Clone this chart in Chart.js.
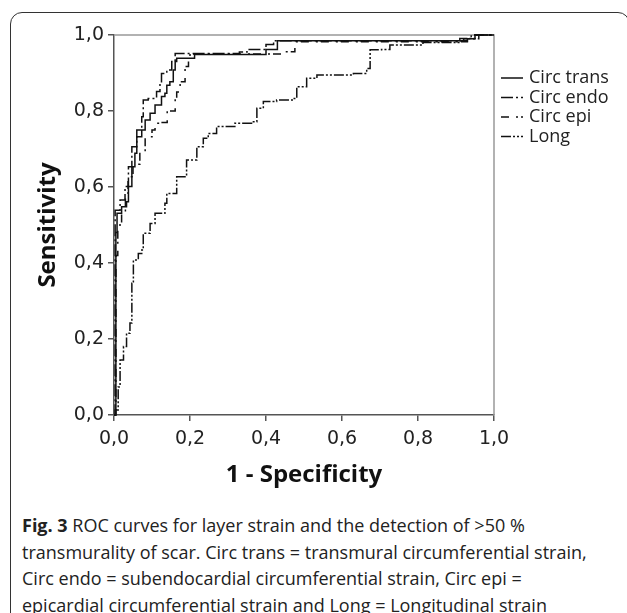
<!DOCTYPE html>
<html>
<head>
<meta charset="utf-8">
<script src="https://cdn.jsdelivr.net/npm/chart.js@4.4.1/dist/chart.umd.min.js"></script>
<style>
  body { margin: 0; background: #fff; width: 627px; height: 613px; overflow: hidden; position: relative; }
  #frame { position: absolute; left: 10px; top: 12px; width: 620px; height: 640px; border: 1.5px solid #333; border-radius: 12px; box-sizing: border-box; }
  #wrap { position: absolute; left: 0; top: 0; width: 627px; height: 500px; }
  #caption { position: absolute; left: 22px; top: 512px; width: 600px; font-family: "Open Sans", sans-serif; font-size: 18px; line-height: 26.5px; color: #222; white-space: nowrap; }
  #caption b { font-weight: 700; }
</style>
</head>
<body>
<div id="frame"></div>
<div id="wrap"><canvas id="roc" width="627" height="500"></canvas></div>
<div id="caption"><b>Fig. 3</b> ROC curves for layer strain and the detection of &gt;50 %<br>transmurality of scar. Circ trans = transmural circumferential strain,<br>Circ endo = subendocardial circumferential strain, Circ epi =<br>epicardial circumferential strain and Long = Longitudinal strain</div>
<script>
// eixos e rótulos
const tickLabels = ["0,0", "0,2", "0,4", "0,6", "0,8", "1,0"];
const seriesNames = ["Circ trans", "Circ endo", "Circ epi", "Long"];

// pontos (1 - especificidade, sensibilidade)
const transFpr = [0, 0.005, 0.008, 0.02, 0.033, 0.038, 0.047, 0.055, 0.060, 0.073, 0.082, 0.095, 0.108, 0.125, 0.134, 0.139, 0.147, 0.156, 0.161, 0.165, 0.212, 0.40, 0.43, 0.93, 0.95, 1.0];
const transTpr = [0, 0.48, 0.531, 0.548, 0.561, 0.601, 0.653, 0.689, 0.732, 0.75, 0.776, 0.794, 0.816, 0.838, 0.847, 0.868, 0.877, 0.908, 0.93, 0.939, 0.949, 0.962, 0.985, 0.99, 1.0, 1.0];

const endoFpr = [0, 0.003, 0.016, 0.029, 0.038, 0.047, 0.060, 0.073, 0.077, 0.090, 0.112, 0.121, 0.125, 0.139, 0.152, 0.161, 0.33, 0.35, 0.40, 0.42, 0.92, 0.94, 1.0];
const endoTpr = [0, 0.539, 0.566, 0.601, 0.653, 0.706, 0.75, 0.785, 0.829, 0.833, 0.851, 0.873, 0.899, 0.908, 0.93, 0.951, 0.955, 0.962, 0.975, 0.985, 0.99, 1.0, 1.0];

const epiFpr = [0, 0.005, 0.01, 0.02, 0.03, 0.037, 0.05, 0.068, 0.082, 0.1, 0.108, 0.121, 0.14, 0.161, 0.165, 0.174, 0.187, 0.196, 0.2, 0.44, 0.476, 0.93, 0.96, 1.0];
const epiTpr = [0, 0.42, 0.50, 0.53, 0.58, 0.627, 0.66, 0.693, 0.732, 0.75, 0.768, 0.77, 0.80, 0.833, 0.85, 0.877, 0.917, 0.943, 0.95, 0.956, 0.982, 0.99, 1.0, 1.0];

const longFpr = [0, 0.003, 0.011, 0.016, 0.025, 0.033, 0.042, 0.047, 0.051, 0.064, 0.073, 0.077, 0.095, 0.108, 0.134, 0.139, 0.165, 0.191, 0.218, 0.235, 0.248, 0.27, 0.318, 0.362, 0.376, 0.393, 0.428, 0.472, 0.481, 0.507, 0.534, 0.63, 0.665, 0.674, 0.704, 0.726, 0.813, 0.91, 0.95, 1.0];
const longTpr = [0, 0.013, 0.074, 0.145, 0.18, 0.215, 0.242, 0.347, 0.408, 0.425, 0.434, 0.478, 0.504, 0.531, 0.557, 0.583, 0.627, 0.671, 0.706, 0.728, 0.741, 0.759, 0.768, 0.772, 0.807, 0.825, 0.829, 0.833, 0.864, 0.886, 0.895, 0.899, 0.912, 0.961, 0.962, 0.974, 0.98, 0.991, 1.0, 1.0];

const dashes = [[], [12, 3, 2, 3], [8, 7, 2, 3], [10, 2, 2, 2, 2, 2]];

function pares(xs, ys) {
  return xs.map((x, i) => ({ x: x, y: ys[i] }));
}

const curvas = [
  pares(transFpr, transTpr),
  pares(endoFpr, endoTpr),
  pares(epiFpr, epiTpr),
  pares(longFpr, longTpr)
];

// moldura cinza no topo e à direita
const molduraPlugin = {
  id: "moldura",
  beforeDatasetsDraw(chart) {
    const { ctx, chartArea: a } = chart;
    ctx.save();
    ctx.strokeStyle = "#999";
    ctx.lineWidth = 1.5;
    ctx.beginPath();
    ctx.moveTo(a.left, a.top);
    ctx.lineTo(a.right, a.top);
    ctx.lineTo(a.right, a.bottom);
    ctx.stroke();
    ctx.restore();
  }
};

// legenda à direita
const legendaPlugin = {
  id: "legenda",
  afterDraw(chart) {
    const ctx = chart.ctx;
    const x0 = chart.chartArea.right + 7;
    let y = 78;
    ctx.save();
    ctx.font = "18px 'Open Sans'";
    ctx.textBaseline = "middle";
    ctx.fillStyle = "#222";
    chart.data.datasets.forEach(ds => {
      ctx.strokeStyle = "#111";
      ctx.lineWidth = 1.5;
      ctx.setLineDash(ds.borderDash || []);
      ctx.beginPath();
      ctx.moveTo(x0, y);
      ctx.lineTo(x0 + 22, y);
      ctx.stroke();
      ctx.setLineDash([]);
      ctx.fillText(ds.label, x0 + 28, y);
      y += 19.5;
    });
    ctx.restore();
  }
};

const ctx = document.getElementById("roc").getContext("2d");

new Chart(ctx, {
  type: "line",
  data: {
    datasets: seriesNames.map((nome, i) => ({
      label: nome,
      data: curvas[i],
      borderColor: "#111",
      borderWidth: 1.5,
      borderDash: dashes[i],
      stepped: "before",
      pointRadius: 0,
      fill: false,
      clip: 4
    }))
  },
  options: {
    responsive: false,
    animation: false,
    layout: { padding: { left: 0, top: 35, right: 133, bottom: 0 } },
    plugins: { legend: { display: false }, tooltip: { enabled: false } },
    scales: {
      x: {
        type: "linear",
        min: 0,
        max: 1,
        afterFit: s => { s.height = 85; },
        ticks: {
          stepSize: 0.2,
          padding: 7,
          color: "#222",
          font: { family: "DejaVu Sans", size: 19 },
          callback: (v, i) => tickLabels[i]
        },
        grid: { drawOnChartArea: false, drawTicks: true, tickLength: 6, color: "#555", lineWidth: 1.5 },
        border: { display: true, color: "#555", width: 1.5 },
        title: {
          display: true,
          text: "1 - Specificity",
          color: "#111",
          font: { family: "Open Sans", size: 24, weight: "bold" },
          padding: { top: 0, bottom: 10 }
        }
      },
      y: {
        type: "linear",
        min: 0,
        max: 1,
        afterFit: s => { s.width = 114; },
        ticks: {
          stepSize: 0.2,
          padding: 4,
          color: "#222",
          font: { family: "DejaVu Sans", size: 19 },
          callback: (v, i) => tickLabels[i]
        },
        grid: { drawOnChartArea: false, drawTicks: true, tickLength: 6, color: "#555", lineWidth: 1.5 },
        border: { display: true, color: "#555", width: 1.5 },
        title: {
          display: true,
          text: "Sensitivity",
          color: "#111",
          font: { family: "Open Sans", size: 24, weight: "bold" },
          padding: { top: 34, bottom: 0 }
        }
      }
    }
  },
  plugins: [molduraPlugin, legendaPlugin]
});
</script>
</body>
</html>
